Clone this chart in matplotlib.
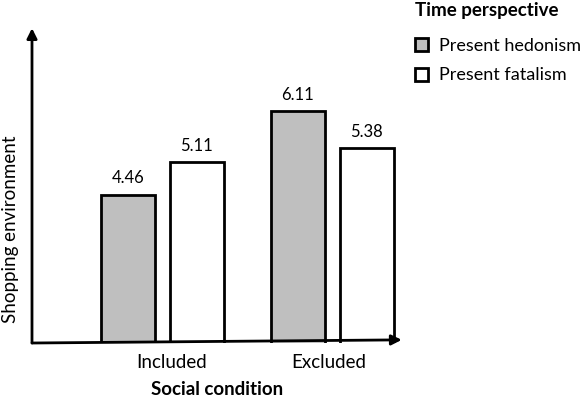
import numpy as np
import matplotlib.pyplot as plt
from matplotlib.patches import Patch

plt.rcParams['font.family'] = ['Lato', 'DejaVu Sans']

conditions = ['Included', 'Excluded']
series = ['Present hedonism', 'Present fatalism']
hedonism = [4.46, 6.11]
fatalism = [5.11, 5.38]

fig = plt.figure(figsize=(5.85, 3.97), dpi=100)
ax = fig.add_axes([0.0547, 0.136, 0.632, 0.793])

x = np.arange(len(conditions))
w = 0.318
off = 0.203
b1 = ax.bar(x - off, hedonism, w, color='#BFBFBF', edgecolor='black', linewidth=2)
b2 = ax.bar(x + off, fatalism, w, color='white', edgecolor='black', linewidth=2)
ax.bar_label(b1, fmt='%.2f', padding=6, fontsize=12)
ax.bar_label(b2, fmt='%.2f', padding=6, fontsize=12)

ax.set_xlim(-0.768, 1.409)
ax.set_ylim(1.52, 7.76)

for s in ax.spines.values():
    s.set_visible(False)
ax.set_yticks([])
ax.set_xticks(x + np.array([0.056, -0.021]))
ax.set_xticklabels(conditions, fontsize=13.5)
ax.tick_params(axis='x', length=0, pad=8)

# axis arrows
ax.annotate('', xy=(0, 1), xytext=(0, 0), xycoords='axes fraction',
            arrowprops=dict(arrowstyle='-|>', lw=2, color='black', shrinkA=0, shrinkB=0,
                            mutation_scale=15))
ax.annotate('', xy=(1, 0.01), xytext=(0, 0), xycoords='axes fraction',
            arrowprops=dict(arrowstyle='-|>', lw=2, color='black', shrinkA=0, shrinkB=0,
                            mutation_scale=15))

ax.set_xlabel('Social condition', fontsize=13.5, fontweight='bold', labelpad=7)
ax.set_ylabel('Shopping environment', fontsize=13.5)
ax.yaxis.set_label_coords(-0.036, 0.36)

handles = [Patch(facecolor='#BFBFBF', edgecolor='black', linewidth=2),
           Patch(facecolor='white', edgecolor='black', linewidth=2)]
leg = fig.legend(handles, series, loc='upper left', bbox_to_anchor=(0.707, 1.0),
                 title='Time perspective', frameon=False, fontsize=13, borderpad=0.1,
                 borderaxespad=0,
                 title_fontproperties={'weight': 'bold', 'size': 13.5},
                 handlelength=0.72, handleheight=0.72, handletextpad=0.6, labelspacing=0.75)
leg._legend_box.align = 'left'
leg._legend_box.sep += 4

fig.savefig('out.png', dpi=100)
